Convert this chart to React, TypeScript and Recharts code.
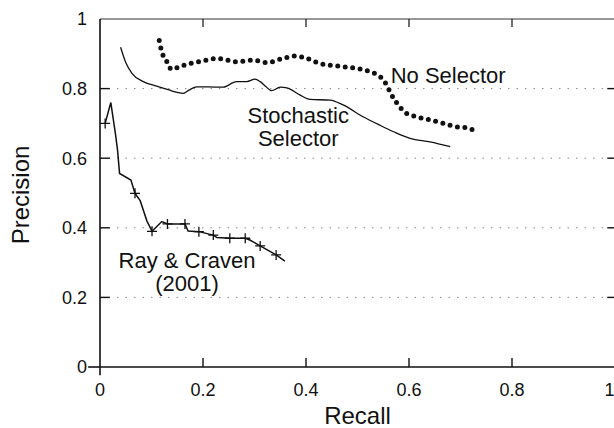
import React from 'react';
import { LineChart, Line, XAxis, YAxis, ReferenceLine, ReferenceDot } from 'recharts';

const stochRecall = [0.040, 0.050, 0.062, 0.084, 0.110, 0.134, 0.150, 0.161, 0.172, 0.188, 0.210, 0.239, 0.265, 0.285, 0.301, 0.311, 0.322, 0.333, 0.350, 0.363, 0.388, 0.408, 0.447, 0.472, 0.511, 0.543, 0.570, 0.602, 0.641, 0.680];
const stochPrecision = [0.919, 0.875, 0.844, 0.820, 0.807, 0.796, 0.789, 0.786, 0.795, 0.805, 0.805, 0.804, 0.820, 0.820, 0.827, 0.820, 0.806, 0.794, 0.804, 0.802, 0.782, 0.769, 0.767, 0.753, 0.719, 0.695, 0.676, 0.657, 0.647, 0.633];

const noSelRecall = [0.115, 0.120, 0.130, 0.139, 0.155, 0.175, 0.201, 0.227, 0.246, 0.265, 0.298, 0.324, 0.356, 0.379, 0.401, 0.427, 0.460, 0.498, 0.524, 0.540, 0.552, 0.560, 0.570, 0.581, 0.590, 0.615, 0.641, 0.667, 0.693, 0.712, 0.733];
const noSelPrecision = [0.938, 0.906, 0.877, 0.855, 0.863, 0.872, 0.880, 0.887, 0.882, 0.877, 0.882, 0.875, 0.887, 0.894, 0.887, 0.872, 0.865, 0.858, 0.849, 0.838, 0.822, 0.800, 0.772, 0.750, 0.734, 0.719, 0.710, 0.700, 0.690, 0.688, 0.673];

const rayRecall = [0.010, 0.021, 0.030, 0.034, 0.038, 0.060, 0.068, 0.078, 0.091, 0.101, 0.120, 0.131, 0.165, 0.171, 0.192, 0.220, 0.227, 0.252, 0.282, 0.291, 0.311, 0.342, 0.359];
const rayPrecision = [0.700, 0.760, 0.670, 0.624, 0.556, 0.537, 0.499, 0.478, 0.420, 0.390, 0.418, 0.411, 0.411, 0.391, 0.389, 0.379, 0.372, 0.370, 0.370, 0.365, 0.348, 0.322, 0.304];
const rayMarked = [true, false, false, false, false, false, true, false, false, true, false, true, true, false, true, true, false, true, true, false, true, true, false];

const ticks = [0, 0.2, 0.4, 0.6, 0.8, 1];
const innerTicks = [0.2, 0.4, 0.6, 0.8];

const labels = [
  { text: 'No Selector', x: 0.676, y: 0.838 },
  { text: 'Stochastic', x: 0.385, y: 0.725 },
  { text: 'Selector', x: 0.385, y: 0.657 },
  { text: 'Ray & Craven', x: 0.169, y: 0.306 },
  { text: '(2001)', x: 0.169, y: 0.241 },
];

const stochastic = stochRecall.map((x, i) => ({ x, y: stochPrecision[i] }));
const noSelector = noSelRecall.map((x, i) => ({ x, y: noSelPrecision[i] }));
const rayCraven = rayRecall.map((x, i) => ({ x, y: rayPrecision[i], mark: rayMarked[i] }));

const FONT = '"Liberation Sans", Arial, Helvetica, sans-serif';
const INK = '#111';

const PlusDot = (props: any) => {
  const { cx, cy, payload, index } = props;
  if (!payload.mark) return <g key={`p${index}`} />;
  return <path key={`p${index}`} d={`M${cx - 5},${cy}h10M${cx},${cy - 5}v10`} stroke={INK} strokeWidth={1.3} fill="none" />;
};

const App = () => {
  return (
    <div style={{ position: 'absolute', left: 0, top: 0, background: '#fff' }}>
      <LineChart width={614} height={428} margin={{ top: 19, right: -1, left: 0, bottom: 0 }}>
        <XAxis
          type="number"
          dataKey="x"
          domain={[0, 1]}
          ticks={ticks}
          height={61}
          tickSize={0}
          tickMargin={16}
          axisLine={{ stroke: INK, strokeWidth: 1.6 }}
          tick={{ fill: INK, fontSize: 18, fontFamily: FONT }}
          label={{ value: 'Recall', position: 'insideBottom', offset: 4, fill: INK, fontSize: 24, fontFamily: FONT }}
        />
        <YAxis
          type="number"
          domain={[0, 1]}
          ticks={ticks}
          width={100}
          tickSize={0}
          tickMargin={13}
          axisLine={{ stroke: INK, strokeWidth: 1.6 }}
          tick={{ fill: INK, fontSize: 18, fontFamily: FONT }}
          label={(p: any) => {
            const vb = p.viewBox || { x: 0, y: 19, width: 100, height: 348 };
            const cx = vb.x + 29;
            const cy = vb.y + vb.height / 2 + 2;
            return (
              <text x={cx} y={cy} transform={`rotate(-90 ${cx} ${cy})`} textAnchor="middle" fill={INK} fontSize={24} fontFamily={FONT}>
                Precision
              </text>
            );
          }}
        />

        {/* faint dotted grid */}
        {innerTicks.map((v) => (
          <ReferenceLine key={`g${v}`} y={v} stroke="#8a8a8a" strokeWidth={1} strokeDasharray="1.5 7" />
        ))}

        {/* frame and inward ticks */}
        <ReferenceLine y={1} stroke="#333" strokeWidth={1.2} />
        <ReferenceLine segment={[{ x: -0.023, y: 0 }, { x: 0, y: 0 }]} stroke={INK} strokeWidth={1.6} ifOverflow="visible" />
        <ReferenceLine segment={[{ x: 0, y: 0 }, { x: 0, y: -0.024 }]} stroke={INK} strokeWidth={1.6} ifOverflow="visible" />
        {innerTicks.map((v) => (
          <ReferenceLine key={`l${v}`} segment={[{ x: 0, y: v }, { x: 0.019, y: v }]} stroke={INK} strokeWidth={1.4} />
        ))}
        {innerTicks.map((v) => (
          <ReferenceLine key={`r${v}`} segment={[{ x: 0.985, y: v }, { x: 1, y: v }]} stroke={INK} strokeWidth={1.4} />
        ))}
        {innerTicks.map((v) => (
          <ReferenceLine key={`b${v}`} segment={[{ x: v, y: 0 }, { x: v, y: 0.026 }]} stroke={INK} strokeWidth={1.4} />
        ))}
        {innerTicks.map((v) => (
          <ReferenceLine key={`t${v}`} segment={[{ x: v, y: 1 }, { x: v, y: 0.977 }]} stroke={INK} strokeWidth={1.2} />
        ))}

        <Line data={stochastic} dataKey="y" type="monotone" stroke={INK} strokeWidth={1.3} dot={false} isAnimationActive={false} />
        <Line
          data={noSelector}
          dataKey="y"
          type="monotone"
          stroke={INK}
          strokeWidth={5}
          strokeLinecap="round"
          strokeDasharray="0 7.5"
          dot={false}
          isAnimationActive={false}
        />
        <Line data={rayCraven} dataKey="y" type="linear" stroke={INK} strokeWidth={1.5} dot={PlusDot} activeDot={false} isAnimationActive={false} />

        {labels.map((l) => (
          <ReferenceDot
            key={l.text}
            x={l.x}
            y={l.y}
            r={0}
            shape={(p: any) => (
              <text x={p.cx} y={p.cy} dy="0.36em" textAnchor="middle" fill={INK} fontSize={22} fontFamily={FONT}>
                {l.text}
              </text>
            )}
          />
        ))}
      </LineChart>
    </div>
  );
};

export default App;
